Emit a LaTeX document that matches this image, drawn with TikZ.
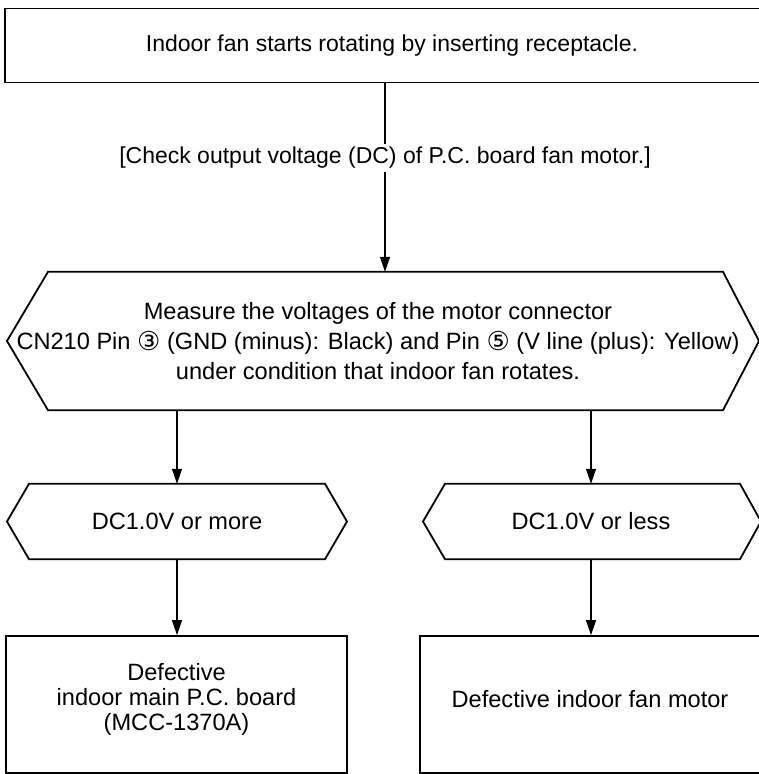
\documentclass[tikz,border=0pt]{standalone}
\usepackage{fontspec}
\setmainfont{Liberation Sans}
\newfontfamily\dvs{DejaVu Sans}
\usetikzlibrary{arrows.meta,calc}
\newcommand\circd[1]{{\dvs\fontsize{26}{26}\selectfont\raisebox{-1pt}{#1}}}
% hexagon around a node: name, left tip dx, left corner dx, right corner dx, right tip dx
\newcommand\hexaround[5]{%
  \draw[shapeline] ($(#1.center)+(#2,0)$) -- ($(#1.north)+(#3,0)$) -- ($(#1.north)+(#4,0)$)
    -- ($(#1.center)+(#5,0)$) -- ($(#1.south)+(#4,0)$) -- ($(#1.south)+(#3,0)$) -- cycle;}
\begin{document}
\begin{tikzpicture}[x=1pt,y=-1pt,
  txt/.style={font=\fontsize{23}{32}\selectfont, align=center, inner sep=0pt},
  bigtxt/.style={font=\fontsize{23.6}{30}\selectfont, align=center, inner sep=0pt},
  boxnode/.style={draw, line width=1.8pt, inner sep=0pt},
  shapeline/.style={line width=1.8pt, line join=miter},
  arr/.style={line width=1.3pt, -{Triangle[length=15pt,width=10pt]}}]
\useasboundingbox (0,0) rectangle (759,774);
\clip (0,0) rectangle (759,774);

\node[boxnode, txt, minimum width=774, minimum height=74] (top) at (392,45.5)
  {Indoor fan starts rotating by inserting receptacle.};

\node[bigtxt, minimum height=138] (h1) at (378,341)
  {Measure the voltages of the motor connector\\
   CN210 Pin \circd{③} (GND (minus): Black) and Pin \circd{⑤} (V line (plus): Yellow)\\
   under condition that indoor fan rotates.};
\hexaround{h1}{-371}{-330}{345}{381}

\node[bigtxt, minimum height=75] (l1) at (177,521.5) {DC1.0V or more};
\hexaround{l1}{-170}{-148}{148}{170}
\node[bigtxt, minimum height=75] (r1) at (591,521.5) {DC1.0V or less};
\hexaround{r1}{-168}{-146}{149}{170}

\node[boxnode, minimum width=341, minimum height=137] (lb) at (176.5,704.5) {};
\node[bigtxt, font=\fontsize{23.6}{25}\selectfont] (lbt) at (176.5,699)
  {Defective\\indoor main P.C. board\\(MCC-1370A)};
\node[boxnode, minimum width=344, minimum height=137] (rb) at (592,704.5) {};
\node[bigtxt] (rbt) at (590,699) {Defective indoor fan motor};

\coordinate (cx) at (385,0);
\draw[arr] (top.south -| cx) -- (h1.north -| cx);
\node[txt, fill=white, inner sep=3pt] (lab) at (385,158)
  {[Check output voltage (DC) of P.C. board fan motor.]};

\draw[arr] (h1.south -| l1.north) -- (l1.north);
\draw[arr] (h1.south -| r1.north) -- (r1.north);
\draw[arr] (l1.south) -- (l1.south |- lb.north);
\draw[arr] (r1.south) -- (r1.south |- rb.north);
\end{tikzpicture}
\end{document}
